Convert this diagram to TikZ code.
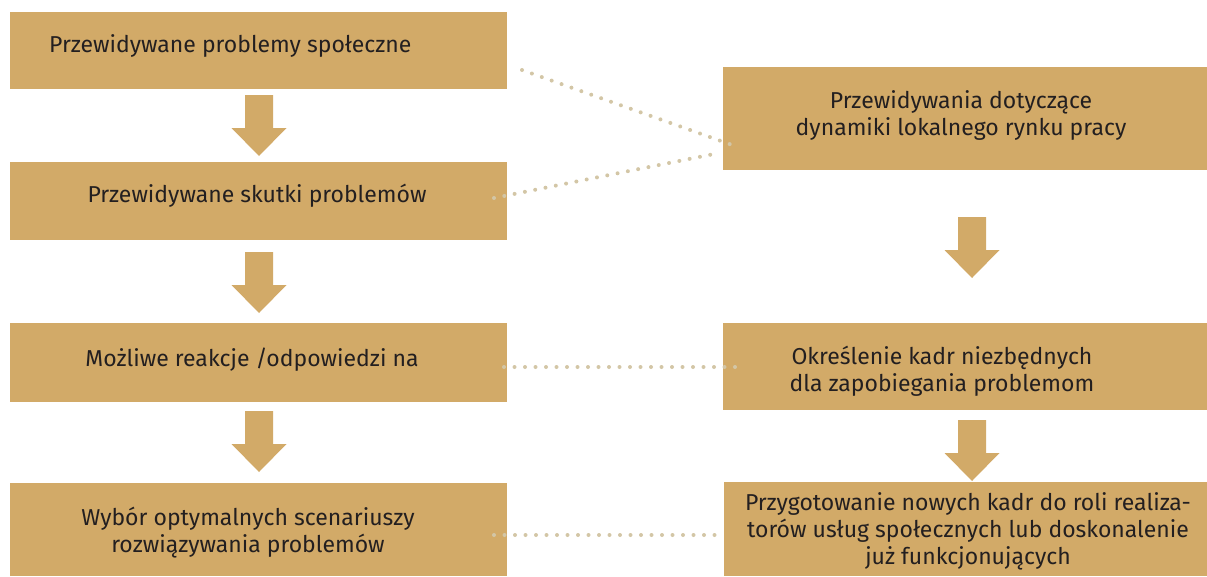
\documentclass[tikz,border=0pt]{standalone}
\usepackage{fontspec}
\setmainfont{Fira Sans}
\definecolor{boxfill}{HTML}{D2AA68}
\definecolor{dotcol}{HTML}{D3C6A6}
\definecolor{txt}{HTML}{231F20}
\begin{document}
\begin{tikzpicture}[x=1pt,y=-1pt,
  box/.style={fill=boxfill, draw=none, inner sep=0pt, outer sep=0pt, anchor=north west},
  lbl/.style={text=txt, font=\fontsize{23}{27}\selectfont, align=center, inner sep=0pt},
  dotline/.style={draw=dotcol, line width=4pt, line cap=round, dash pattern=on 0pt off 10.5pt},
  blockarrow/.pic={\fill[boxfill] (-14,0) -- (14,0) -- (14,33) -- (27.5,33) -- (0,61) -- (-27.5,33) -- (-14,33) -- cycle;}
]
\useasboundingbox (0,0) rectangle (1207,576);
% left column
\node[box, minimum width=497pt, minimum height=77pt] (b1) at (10,12) {};
\node[box, minimum width=497pt, minimum height=78pt] (b2) at (10,162) {};
\node[box, minimum width=497pt, minimum height=79pt] (b3) at (10,323) {};
\node[box, minimum width=497pt, minimum height=93pt] (b4) at (10,483) {};
% right column
\node[box, minimum width=484pt, minimum height=103pt] (r1) at (723,67) {};
\node[box, minimum width=484pt, minimum height=87pt] (r2) at (723,323) {};
\node[box, minimum width=483pt, minimum height=94pt] (r3) at (724,482) {};
% texts
\node[lbl, anchor=west] (t1) at (49,46) {Przewidywane problemy społeczne};
\node[lbl] (t2) at (257,196) {Przewidywane skutki problemów};
\node[lbl] (t3) at (252,360) {Możliwe reakcje /odpowiedzi na};
\node[lbl] (t4) at (248,533) {Wybór optymalnych scenariuszy\\rozwiązywania problemów};
\node[lbl] (u1) at (961,115) {Przewidywania dotyczące\\dynamiki lokalnego rynku pracy};
\node[lbl] (u2) at (942,371) {Określenie kadr niezbędnych\\dla zapobiegania problemom};
\node[lbl] (u3) at (968,531) {Przygotowanie nowych kadr do roli realiza-\\torów usług społecznych lub doskonalenie\\już funkcjonujących};
% block arrows
\pic at (259,95) {blockarrow};
\pic at (259,252) {blockarrow};
\pic at (259,411) {blockarrow};
\pic at (972,217) {blockarrow};
\pic at (972,420) {blockarrow};
% dotted connectors
\coordinate (a1) at (522,70);
\coordinate (a2) at (735,146);
\coordinate (c1) at (494,198);
\coordinate (c2) at (719,153);
\coordinate (d1) at (504,367);
\coordinate (d2) at (735,367);
\coordinate (e1) at (494,535);
\coordinate (e2) at (719,535);
\draw[dotline] (a1) -- (a2);
\draw[dotline] (c1) -- (c2);
\draw[dotline] (d1) -- (d2);
\draw[dotline] (e1) -- (e2);
\end{tikzpicture}
\end{document}
